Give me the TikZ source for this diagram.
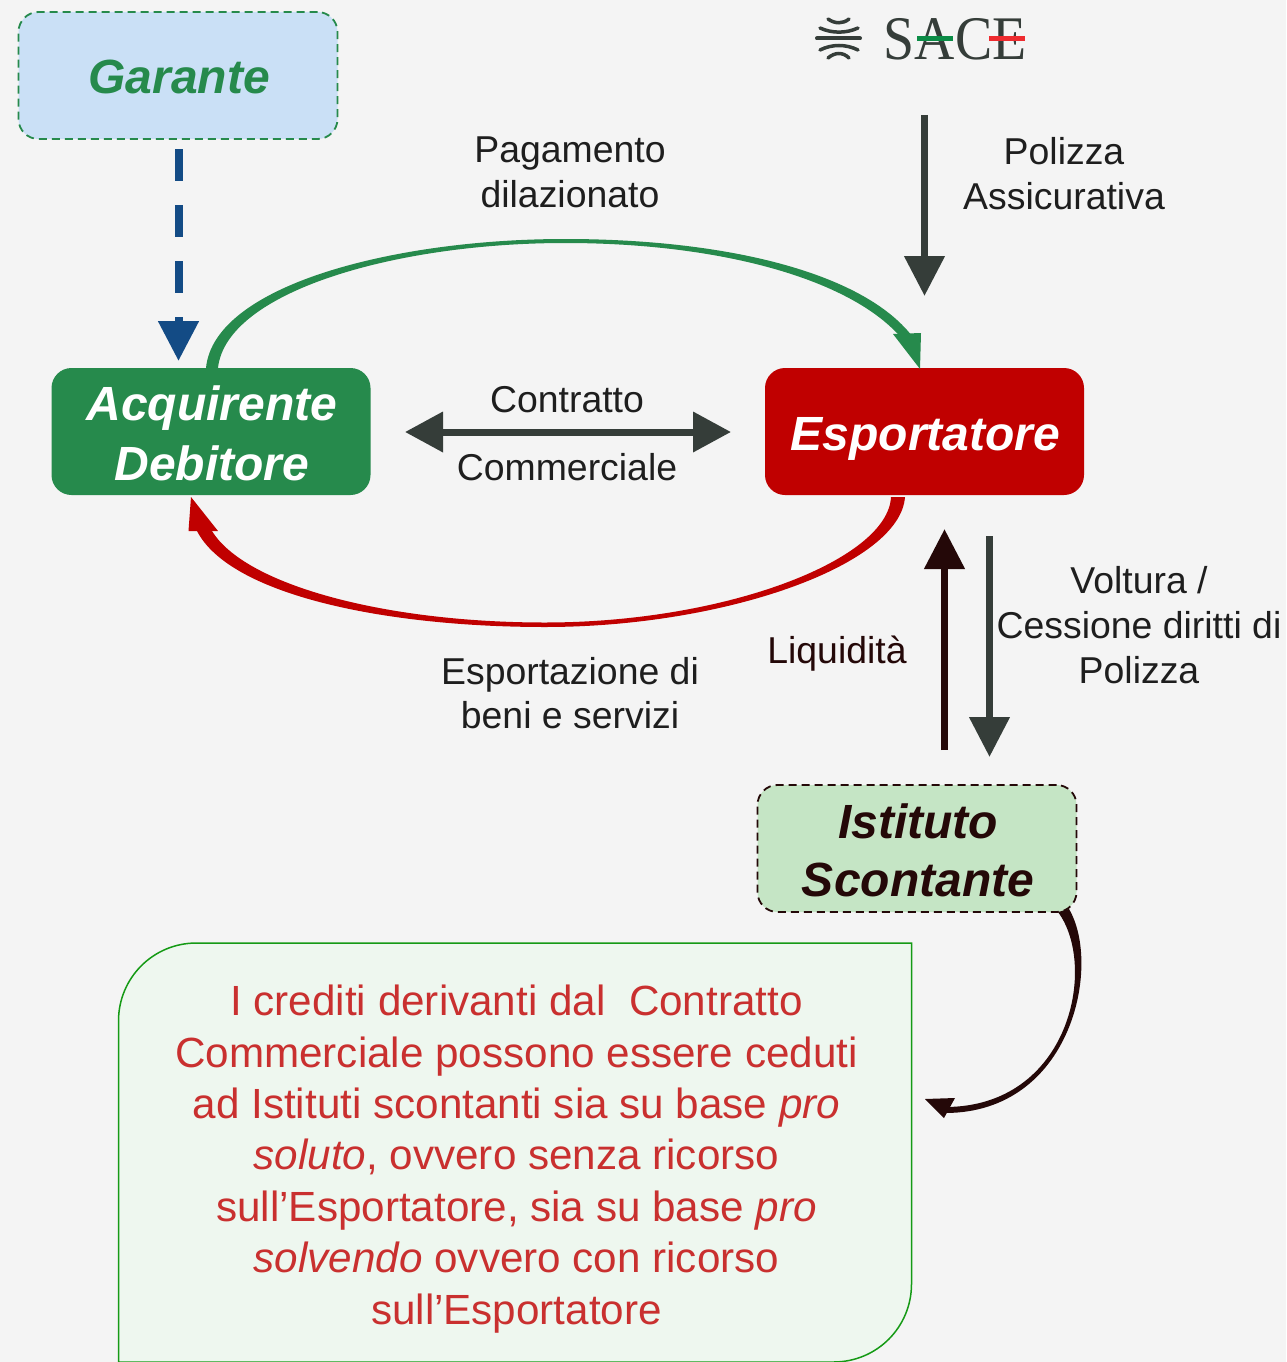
\documentclass[tikz,border=0pt]{standalone}
\usepackage{fontspec}
\setmainfont{Liberation Sans}
\newfontfamily\logofont{Liberation Serif}
\usetikzlibrary{arrows.meta}
\definecolor{bgc}{HTML}{F4F4F4}
\definecolor{gr}{HTML}{268A4C}
\definecolor{rd}{HTML}{C00000}
\definecolor{dk}{HTML}{353D39}
\definecolor{brn}{HTML}{240808}
\definecolor{blu}{HTML}{134B85}
\definecolor{txt}{HTML}{1E1E1E}
\definecolor{lblue}{HTML}{CAE0F6}
\definecolor{lgreen}{HTML}{C5E5C5}
\definecolor{lbox}{HTML}{EEF7EF}
\definecolor{lboxl}{HTML}{159A15}
\definecolor{boxtxt}{HTML}{C9302F}
\definecolor{lgn}{HTML}{0B8C46}
\definecolor{lrd}{HTML}{EE2B2F}
\newcommand{\toprule}{\rule{0pt}{39pt}}
\tikzset{
 x=1pt,y=-1pt,
 boxn/.style={minimum width=319pt,minimum height=127pt,rounded corners=20pt,inner sep=0pt,align=center,font=\fontsize{48}{60}\selectfont\bfseries\itshape},
 oneline/.style={text height=37pt,text depth=0pt},
 dashbox/.style={dash pattern=on 8pt off 5pt,line width=1.8pt},
 lab/.style={align=center,text=txt,inner sep=0pt,font=\fontsize{37.4}{45}\selectfont},
 big/.style={-{Triangle[length=40pt,width=39pt]},line width=7.5pt},
}
\begin{document}
\begin{tikzpicture}
\useasboundingbox[fill=bgc] (0,0) rectangle (1286,1362);
% boxes
\node[boxn,oneline,draw=gr,fill=lblue,dashbox,text=gr] (gar) at (178,75.5) {\hspace*{2pt}Garante};
\node[boxn,fill=gr,text=white] (acq) at (211,431.5) {\toprule\hspace*{2pt}Acquirente\\\hspace*{2pt}Debitore};
\node[boxn,oneline,fill=rd,text=white] (esp) at (924.5,431.5) {\hspace*{2pt}Esportatore};
\node[boxn,draw=brn,fill=lgreen,dashbox,text=brn,font=\fontsize{48}{58}\selectfont\bfseries\itshape] (ist) at (917,848.5) {\toprule\hspace*{2pt}Istituto\\\hspace*{2pt}Scontante};
% note box, running past the page bottom
\fill[lbox,draw=lboxl,line width=1.5pt] (118.5,1372) -- (118.5,1021) .. controls (118.5,978) and (153,943) .. (196.5,943) -- (911.5,943) -- (911.5,1284) .. controls (911.5,1327) and (877,1362) .. (833.5,1362) -- (118.5,1362) -- cycle;
\node[align=center,text=boxtxt,inner sep=0pt,anchor=north,font=\fontsize{42.2}{51.4}\selectfont] (note) at (516.5,985) {I crediti derivanti dal\ \ Contratto\\Commerciale possono essere ceduti\\ad Istituti scontanti sia su base \textit{pro}\\\textit{soluto}, ovvero senza ricorso\\sull’Esportatore, sia su base \textit{pro}\\\textit{solvendo} ovvero con ricorso\\sull’Esportatore};
% logo
\node[inner sep=0pt,text=dk,xscale=0.9,font=\fontsize{62}{62}\logofont] (sace) at (955,39) {SACE};
\fill[lgn] (917,36) rectangle (953,41);
\fill[lrd] (989,36) rectangle (1025,41);
\draw[dk,line width=4pt,line cap=round] (817,38.5) -- (860,38.5);
\draw[dk,line width=3.5pt,line cap=round] (820,28) .. controls (832,33.5) and (846,33.5) .. (858,28);
\draw[dk,line width=3.5pt,line cap=round] (828,19) .. controls (835,24) and (843,24) .. (849,19);
\draw[dk,line width=3.5pt,line cap=round] (820,50) .. controls (832,44) and (846,44) .. (858,50);
\draw[dk,line width=3.5pt,line cap=round] (828,58) .. controls (835,52) and (843,52) .. (849,58);
\coordinate (logob) at (924.5,115);
\coordinate (polt) at (924.5,296);
% straight arrows
\draw[big,dk] (logob) -- (polt);
\draw[blu,line width=8pt,dash pattern=on 32pt off 24pt,-{Triangle[length=40pt,width=39pt]}] (178.5,149) -- (178.5,361);
\draw[dk,line width=7pt,{Triangle[length=38pt,width=39pt]}-{Triangle[length=38pt,width=39pt]}] (405,432) -- (731,432);
\draw[big,brn] (944.5,750) -- (944.5,529);
\draw[big,dk] (989.5,536) -- (989.5,757);
% curved, tapered
\fill[gr] (206,368) .. controls (214,285) and (395,239) .. (565,239) .. controls (725,239) and (862,272) .. (912,336) -- (903,340) .. controls (855,281) and (725,243) .. (565,243) .. controls (395,243) and (226,292) .. (218,368) -- cycle;
\fill[gr] (920,369) -- (893,334) -- (921,333) -- cycle;
\fill[rd] (905,497) .. controls (900,565) and (725,627) .. (545,627) .. controls (385,627) and (230,595) .. (197,531) -- (212,531) .. controls (245,585) and (385,622.5) .. (545,622.5) .. controls (725,622.5) and (888,560) .. (891,497) -- cycle;
\fill[rd] (191,497) -- (188.5,531) -- (218,531) -- cycle;
\fill[brn] (1069,909) .. controls (1102,965) and (1072,1113) .. (945,1113) -- (945,1107) .. controls (1070,1107) and (1098,966) .. (1058,912) -- cycle;
\fill[brn] (925,1099) -- (955,1098) -- (944,1118) -- cycle;
% labels
\node[lab] (l1) at (570,172) {Pagamento\\dilazionato};
\node[lab] (l2) at (1064,174) {Polizza\\Assicurativa};
\node[lab] (l3) at (567,400) {Contratto};
\node[lab] (l4) at (567,467) {Commerciale};
\node[lab,font=\fontsize{37.4}{44}\selectfont] (l5) at (570,693) {Esportazione di\\beni e servizi};
\node[lab,text=brn] (l6) at (837,654) {Liquidità};
\node[lab] (l7) at (1139,625) {Voltura /\\Cessione diritti di\\Polizza};
\end{tikzpicture}
\end{document}
